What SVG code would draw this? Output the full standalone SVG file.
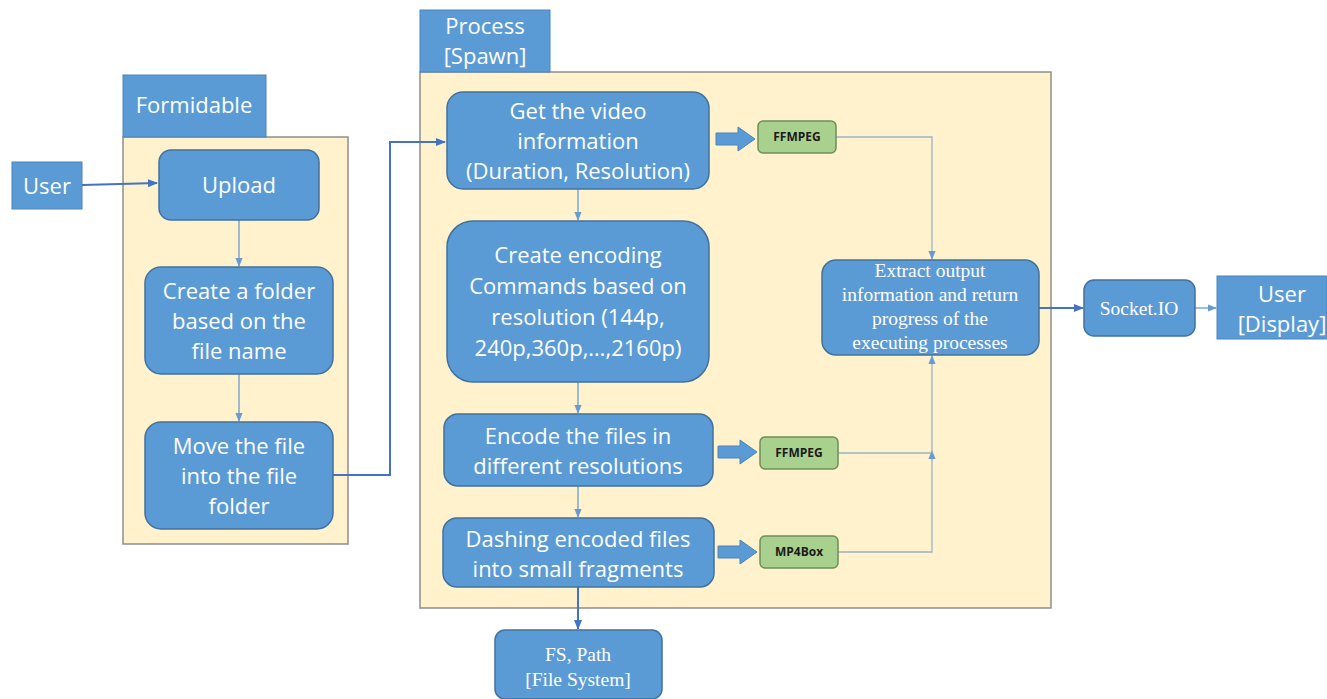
<svg xmlns="http://www.w3.org/2000/svg" width="1327" height="699" viewBox="0 0 1327 699">
<defs>
<style>
.cont{fill:#FFF2CC;stroke:#8E8E8E;stroke-width:1.5}
.lbl{fill:#5B9BD5;stroke:#4A84BC;stroke-width:1}
.node{fill:#5B9BD5;stroke:#41719C;stroke-width:1.5}
.green{fill:#A9D18E;stroke:#6F8F5A;stroke-width:1.5}
.t{font-family:"Open Sans","Noto Sans",sans-serif;font-size:22px;fill:#fff;text-anchor:middle}
.ts{font-family:"Liberation Serif",serif;font-size:19.5px;fill:#fff;text-anchor:middle}
.tg{font-family:"Open Sans","Noto Sans",sans-serif;font-size:12px;font-weight:bold;fill:#1a1a1a;text-anchor:middle}
.c{fill:none;stroke:#6A9BD0;stroke-width:1.3}
.cd{fill:none;stroke:#4472C4;stroke-width:2}
.cg{fill:none;stroke:#9DB3C8;stroke-width:1.3}
.blk{fill:#5B9BD5;stroke:#4A84BC;stroke-width:1}
</style>
<marker id="a" viewBox="0 0 10 10" refX="9" refY="5" markerWidth="7" markerHeight="7" orient="auto"><path d="M0,1 L10,5 L0,9 z" fill="#6A9BD0"/></marker>
<marker id="ad" viewBox="0 0 10 10" refX="9" refY="5" markerWidth="5" markerHeight="5" orient="auto"><path d="M0,1 L10,5 L0,9 z" fill="#4472C4"/></marker>
</defs>
<rect width="1327" height="699" fill="#fff"/>

<g id="formidable">
<rect class="cont" x="123" y="137" width="225" height="407"/>
<rect class="lbl" x="123" y="75" width="143" height="62"/>
<text class="t" x="194" y="113">Formidable</text>
</g>
<g id="process">
<rect class="cont" x="420" y="72" width="631" height="536"/>
<rect class="lbl" x="420" y="10" width="130" height="62"/>
<text class="t" x="485" y="34">Process</text>
<text class="t" x="485" y="64">[Spawn]</text>
</g>

<g id="connectors">
<path class="cd" d="M82,185 L157,183" marker-end="url(#ad)"/>
<path class="c" d="M239,220 L239,266" marker-end="url(#a)"/>
<path class="c" d="M239,374 L239,421" marker-end="url(#a)"/>
<path class="cd" d="M333,475 L390,475 L390,142 L445,142" marker-end="url(#ad)"/>
<path class="c" d="M578,189 L578,220" marker-end="url(#a)"/>
<path class="c" d="M578,382 L578,413" marker-end="url(#a)"/>
<path class="c" d="M578,486 L578,517" marker-end="url(#a)"/>
<path class="cd" d="M578,587 L578,629" marker-end="url(#ad)"/>
<path class="cg" d="M836,137 L932,137 L932,259" marker-end="url(#a)"/>
<path class="cg" d="M838,453 L932,453"/>
<path class="cg" d="M838,552 L932,552 L932,453"/>
<path class="cg" d="M932,460 L932,451" marker-end="url(#a)"/>
<path class="cg" d="M932,453 L932,356" marker-end="url(#a)"/>
<path class="cd" d="M1039,308 L1083,308" marker-end="url(#ad)"/>
<path class="c" d="M1195,308 L1216,308" marker-end="url(#a)"/>
<path class="blk" d="M716,133 L738,133 L738,127 L755,139 L738,151 L738,145 L716,145 z"/>
<path class="blk" d="M718,446 L740,446 L740,440 L757,452 L740,464 L740,458 L718,458 z"/>
<path class="blk" d="M718,546 L740,546 L740,540 L757,552 L740,564 L740,558 L718,558 z"/>
</g>

<g id="user">
<rect class="lbl" x="12" y="162" width="70" height="47"/>
<text class="t" x="47" y="194">User</text>
</g>
<g id="upload">
<rect class="node" x="159" y="150" width="160" height="70" rx="12"/>
<text class="t" x="239" y="193">Upload</text>
</g>
<g id="create-folder">
<rect class="node" x="145" y="267" width="188" height="107" rx="16"/>
<text class="t" x="239" y="299">Create a folder</text>
<text class="t" x="239" y="329">based on the</text>
<text class="t" x="239" y="359">file name</text>
</g>
<g id="move-file">
<rect class="node" x="145" y="422" width="188" height="107" rx="16"/>
<text class="t" x="239" y="454">Move the file</text>
<text class="t" x="239" y="484">into the file</text>
<text class="t" x="239" y="514">folder</text>
</g>
<g id="get-info">
<rect class="node" x="447" y="92" width="262" height="97" rx="16"/>
<text class="t" x="578" y="119">Get the video</text>
<text class="t" x="578" y="149">information</text>
<text class="t" x="578" y="179">(Duration, Resolution)</text>
</g>
<g id="create-commands">
<rect class="node" x="447" y="221" width="262" height="161" rx="26"/>
<text class="t" x="578" y="263">Create encoding</text>
<text class="t" x="578" y="294">Commands based on</text>
<text class="t" x="578" y="325">resolution (144p,</text>
<text class="t" x="578" y="356">240p,360p,…,2160p)</text>
</g>
<g id="encode">
<rect class="node" x="444" y="414" width="269" height="72" rx="14"/>
<text class="t" x="578" y="444">Encode the files in</text>
<text class="t" x="578" y="474">different resolutions</text>
</g>
<g id="dashing">
<rect class="node" x="443" y="518" width="271" height="69" rx="14"/>
<text class="t" x="578" y="547">Dashing encoded files</text>
<text class="t" x="578" y="577">into small fragments</text>
</g>
<g id="fs-path">
<rect class="node" x="495" y="630" width="167" height="69" rx="10"/>
<text class="ts" x="578" y="661">FS, Path</text>
<text class="ts" x="578" y="686">[File System]</text>
</g>
<g id="ffmpeg1">
<rect class="green" x="758" y="121" width="78" height="32" rx="5"/>
<text class="tg" x="797" y="141">FFMPEG</text>
</g>
<g id="ffmpeg2">
<rect class="green" x="760" y="437" width="78" height="32" rx="5"/>
<text class="tg" x="799" y="457">FFMPEG</text>
</g>
<g id="mp4box">
<rect class="green" x="760" y="536" width="78" height="32" rx="5"/>
<text class="tg" x="799" y="556">MP4Box</text>
</g>
<g id="extract">
<rect class="node" x="822" y="260" width="217" height="95" rx="14"/>
<text class="ts" x="930" y="277">Extract output</text>
<text class="ts" x="930" y="301">information and return</text>
<text class="ts" x="930" y="325">progress of the</text>
<text class="ts" x="930" y="349">executing processes</text>
</g>
<g id="socketio">
<rect class="node" x="1084" y="280" width="111" height="56" rx="10"/>
<text class="ts" x="1139" y="315">Socket.IO</text>
</g>
<g id="user-display">
<rect class="lbl" x="1217" y="276" width="110" height="63"/>
<text class="t" x="1282" y="302">User</text>
<text class="t" x="1282" y="332">[Display]</text>
</g>
</svg>
